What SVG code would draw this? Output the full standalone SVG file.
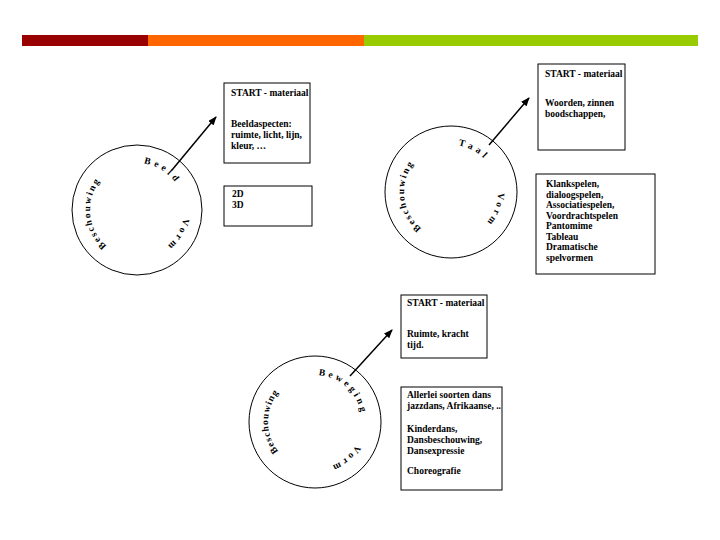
<svg xmlns="http://www.w3.org/2000/svg" xmlns:xlink="http://www.w3.org/1999/xlink" width="720" height="540" viewBox="0 0 720 540">
<style>
.ring{fill:none;stroke:#000;stroke-width:1}
.box{fill:#fff;stroke:#000;stroke-width:1}
.t{font-family:"Liberation Serif","Times New Roman",serif;font-size:9.5px;font-weight:bold;fill:#000}
.arc{font-family:"Liberation Serif","Times New Roman",serif;font-size:9.5px;font-weight:bold;letter-spacing:3px;fill:#000}
.conn{stroke:#000;stroke-width:1.5;fill:none}
</style>
<defs>
<marker id="ah" markerUnits="userSpaceOnUse" markerWidth="9" markerHeight="7" refX="8" refY="3.5" orient="auto">
<path d="M0,0 L9,3.5 L0,7 z" fill="#000"/>
</marker>
<path id="p1" d="M184,210 A47,47 0 1 1 90,210 A47,47 0 1 1 184,210"/>
<path id="p2" d="M498,192 A47,47 0 1 1 404,192 A47,47 0 1 1 498,192"/>
<path id="p3" d="M362,422 A47,47 0 1 1 268,422 A47,47 0 1 1 362,422"/>
</defs>
<rect width="720" height="540" fill="#fff"/>
<g id="topbar">
<rect x="22" y="35" width="126" height="11" fill="#990000"/>
<rect x="148" y="35" width="216" height="11" fill="#FF6600"/>
<rect x="364" y="35" width="334" height="11" fill="#99CC00"/>
</g>
<g id="circle-beeld">
<circle class="ring" cx="137" cy="210" r="65"/>
<text class="arc" style="letter-spacing:3.5px"><textPath xlink:href="#p1" startOffset="228">Beeld</textPath></text>
<text class="arc"><textPath xlink:href="#p1" startOffset="8.2">Vorm</textPath></text>
<text class="arc" style="letter-spacing:1.8px"><textPath xlink:href="#p1" startOffset="106.6">Beschouwing</textPath></text>
</g>
<g id="circle-taal">
<circle class="ring" cx="451" cy="192" r="66"/>
<text class="arc" style="letter-spacing:3.7px"><textPath xlink:href="#p2" startOffset="228.4">Taal</textPath></text>
<text class="arc"><textPath xlink:href="#p2" startOffset="0.8">Vorm</textPath></text>
<text class="arc" style="letter-spacing:1.8px"><textPath xlink:href="#p2" startOffset="105.8">Beschouwing</textPath></text>
</g>
<g id="circle-beweging">
<circle class="ring" cx="315" cy="422" r="66"/>
<text class="arc"><textPath xlink:href="#p3" startOffset="224.7">Beweging</textPath></text>
<text class="arc"><textPath xlink:href="#p3" startOffset="23.8">Vorm</textPath></text>
<text class="arc" style="letter-spacing:1px"><textPath xlink:href="#p3" startOffset="115.6">Beschouwing</textPath></text>
</g>
<g id="connectors">
<line class="conn" x1="172" y1="170" x2="216" y2="117" marker-end="url(#ah)"/>
<line class="conn" x1="489" y1="145" x2="529" y2="98" marker-end="url(#ah)"/>
<line class="conn" x1="350" y1="376" x2="392" y2="330" marker-end="url(#ah)"/>
</g>
<g id="box-beeld-start">
<rect class="box" x="224" y="83" width="86" height="80"/>
<text class="t" x="231" y="96">START - materiaal</text>
<text class="t" x="231" y="127">Beeldaspecten:</text>
<text class="t" x="231" y="138">ruimte, licht, lijn,</text>
<text class="t" x="231" y="149">kleur, …</text>
</g>
<g id="box-beeld-2d3d">
<rect class="box" x="224" y="186" width="88" height="40"/>
<text class="t" x="232" y="197">2D</text>
<text class="t" x="232" y="208">3D</text>
</g>
<g id="box-taal-start">
<rect class="box" x="538" y="64" width="87" height="86"/>
<text class="t" x="545" y="77">START - materiaal</text>
<text class="t" x="545" y="106">Woorden, zinnen</text>
<text class="t" x="545" y="117">boodschappen,</text>
</g>
<g id="box-taal-spelen">
<rect class="box" x="536" y="174" width="119" height="100"/>
<text class="t" x="546" y="187">Klankspelen,</text>
<text class="t" x="546" y="197.5">dialoogspelen,</text>
<text class="t" x="546" y="208">Associatiespelen,</text>
<text class="t" x="546" y="218.5">Voordrachtspelen</text>
<text class="t" x="546" y="229">Pantomime</text>
<text class="t" x="546" y="239.5">Tableau</text>
<text class="t" x="546" y="250">Dramatische</text>
<text class="t" x="546" y="260.5">spelvormen</text>
</g>
<g id="box-beweging-start">
<rect class="box" x="401" y="295" width="86" height="63"/>
<text class="t" x="407" y="306">START - materiaal</text>
<text class="t" x="407" y="337">Ruimte, kracht</text>
<text class="t" x="407" y="348">tijd.</text>
</g>
<g id="box-beweging-dans">
<rect class="box" x="401" y="387" width="101" height="103"/>
<text class="t" x="407" y="398">Allerlei soorten dans</text>
<text class="t" x="407" y="409">jazzdans, Afrikaanse, ..</text>
<text class="t" x="407" y="432">Kinderdans,</text>
<text class="t" x="407" y="443">Dansbeschouwing,</text>
<text class="t" x="407" y="454">Dansexpressie</text>
<text class="t" x="407" y="474">Choreografie</text>
</g>
</svg>
